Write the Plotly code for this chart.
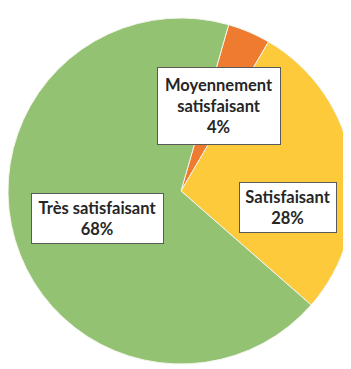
import plotly.graph_objects as go

labels = ["Moyennement satisfaisant", "Satisfaisant", "Très satisfaisant"]
box_labels = ["Moyennement<br>satisfaisant", "Satisfaisant", "Très satisfaisant"]
values = [4, 28, 68]
colors = ["#EE7B30", "#FDCA3C", "#93C272"]

W, H = 351, 369
OFF = 8  # page body margin offset


def fx(px):
    return (px - OFF) / W


def fy(py):
    return 1 - (py - OFF) / H


fig = go.Figure(go.Pie(
    labels=labels,
    values=values,
    sort=False,
    direction="clockwise",
    rotation=16,
    marker=dict(colors=colors, line=dict(color="#F4F4EC", width=1)),
    textinfo="none",
    hoverinfo="label+percent",
    domain=dict(x=[0, 346 / W], y=[1 - 356 / H, 1 - 10 / H]),
    showlegend=False,
))

# label boxes: center px x, center px y, width, height (page pixels)
boxes = [
    (219, 106, 122, 76),
    (288, 207.5, 96, 49),
    (97.5, 218.5, 131, 49),
]
for (cx, cy, w, h), bl, v in zip(boxes, box_labels, values):
    fig.add_annotation(
        x=fx(cx), y=fy(cy), xref="paper", yref="paper",
        xanchor="center", yanchor="middle",
        text=f"<b>{bl}<br>{v}%</b>",
        showarrow=False,
        width=w, height=h,
        bgcolor="white",
        bordercolor="#5A5A5A", borderwidth=1, borderpad=0,
        font=dict(family="Lato", size=16.5, color="#262626"),
        align="center", valign="middle",
    )

fig.update_layout(
    width=W, height=H,
    margin=dict(l=0, r=0, t=0, b=0),
    paper_bgcolor="white",
    plot_bgcolor="white",
)
fig.write_html("out.html")
